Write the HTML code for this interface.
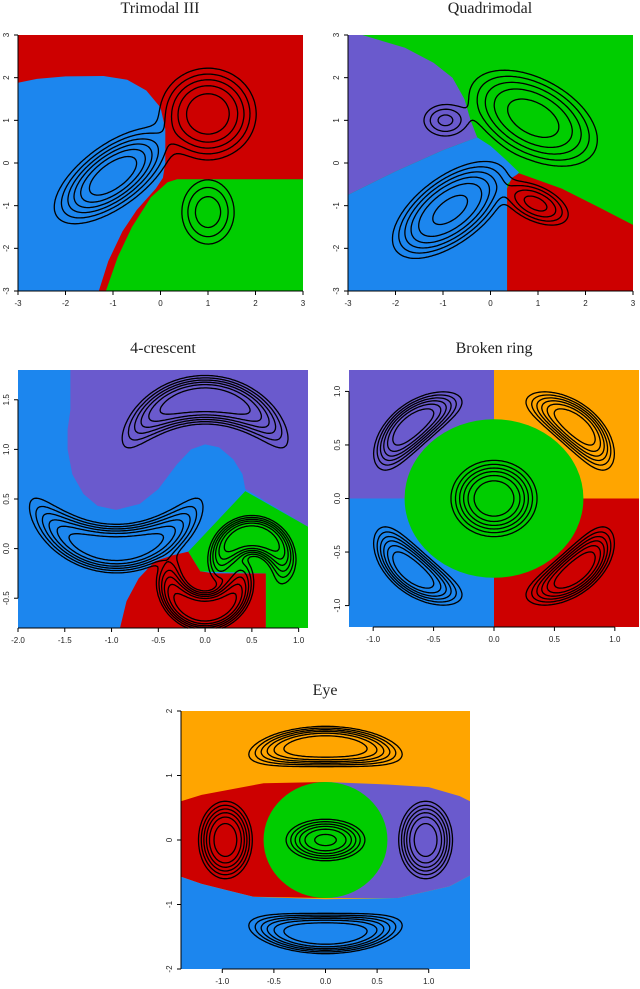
<!DOCTYPE html>
<html><head><meta charset="utf-8">
<style>
html,body{margin:0;padding:0;background:#fff;}
svg{display:block;}
.title{font-family:"Liberation Serif",serif;font-size:16px;fill:#222;}
.tick{font-family:"Liberation Sans",sans-serif;font-size:8px;fill:#222;}
</style></head>
<body>
<svg id="fig" width="640" height="989" viewBox="0 0 640 989" xmlns="http://www.w3.org/2000/svg"></svg>
<script>
// ---------- data ----------
const panelTitles = ["Trimodal III","Quadrimodal","4-crescent","Broken ring","Eye"];
const xTicks1 = [-3,-2,-1,0,1,2,3];
const yTicks1 = [-3,-2,-1,0,1,2,3];
const xTicks3 = [-2.0,-1.5,-1.0,-0.5,0.0,0.5,1.0];
const yTicks3 = [-0.5,0.0,0.5,1.0,1.5];
const xTicks4 = [-1.0,-0.5,0.0,0.5,1.0];
const yTicks4 = [-1.0,-0.5,0.0,0.5,1.0];
const xTicks5 = [-1.0,-0.5,0.0,0.5,1.0];
const yTicks5 = [-2,-1,0,1,2];
const contourLevels = [0.05,0.1,0.17,0.26,0.38,0.55];

// mixture components: g = [mx,my,sx,sy,rho,amp,p], a = [cx,cy,R,theta,sr,sth,amp,p]
const comp1 = [["g",-1,-0.3,0.55,0.5,0.65,0.8,1.1],["g",1,1.15,0.52,0.55,0,0.5,1.3],["g",1,-1.15,0.33,0.45,0,0.22,1.2]];
const comp2 = [["g",0.9,1.05,0.72,0.6,-0.45,0.45,1.4],["g",-0.95,1.0,0.27,0.22,0,0.2,1],["g",-0.85,-1.1,0.62,0.58,0.6,0.6,1.4],["g",0.95,-0.95,0.38,0.28,-0.5,0.3,1.2]];
const comp3 = [["a",0,0.5,1.0,90,0.12,0.5,0.8,1.4],["a",-0.95,1.05,1.05,-90,0.12,0.5,0.8,1.4],["a",0,-0.25,0.38,-90,0.1,1.0,0.8,1.4],["a",0.5,-0.2,0.33,90,0.1,1.0,0.8,1.4]];
const comp4 = [["g",0,0,0.17,0.17,0,0.8,1.3],["a",0,0,0.96,45,0.09,0.24,0.8,1.3],["a",0,0,0.96,135,0.09,0.24,0.8,1.3],["a",0,0,0.96,225,0.09,0.24,0.8,1.3],["a",0,0,0.96,315,0.09,0.24,0.8,1.3]];
const comp5 = [["a",0,-0.05,1.5,90,0.16,0.26,0.8,1.6],["a",0,0.05,1.5,-90,0.16,0.26,0.8,1.6],["g",-0.97,0,0.13,0.3,0,0.7,1.4],["g",0.97,0,0.13,0.3,0,0.7,1.4],["g",0,0,0.19,0.16,0,0.6,1.3]];

// region polygons (data units)
const reg1 = [["#CD0000","bg"],["#1C86EE",[[-3,-3],[-3,1.88],[-2.6,1.97],[-2,2.03],[-1.2,2.04],[-0.7,1.95],[-0.3,1.7],[0,1.3],[0.1,0.8],[0.1,0],[0.05,-0.35],[-0.1,-0.6],[-0.5,-1.1],[-0.8,-1.6],[-1.1,-2.3],[-1.3,-3]]],["#00CD00",[[3,-0.38],[0.35,-0.38],[0.15,-0.45],[-0.2,-0.8],[-0.6,-1.5],[-0.9,-2.2],[-1.15,-3],[3,-3]]]];
const reg2 = [["#00CD00","bg"],["#6A5ACD",[[-3,3],[-2.7,3],[-1.8,2.7],[-1.2,2.35],[-0.8,2.0],[-0.55,1.5],[-0.42,1.0],[-0.28,0.6],[-1.0,0.3],[-2,-0.2],[-3,-0.75]]],["#1C86EE",[[-3,-0.75],[-2,-0.2],[-1.0,0.3],[-0.28,0.6],[0,0.4],[0.3,0.1],[0.6,-0.22],[0.35,-0.5],[0.35,-3],[-3,-3]]],["#CD0000",[[0.35,-3],[0.35,-0.6],[0.45,-0.35],[0.6,-0.24],[1.5,-0.6],[2.3,-1.05],[3,-1.45],[3,-3]]]];
const reg3 = [["#1C86EE","bg"],["#6A5ACD",[[-1.44,1.8],[1.1,1.8],[1.1,0.22],[0.43,0.6],[0.4,0.75],[0.3,0.9],[0.15,1.02],[0,1.05],[-0.15,1.0],[-0.3,0.85],[-0.5,0.6],[-0.7,0.45],[-0.95,0.39],[-1.15,0.43],[-1.3,0.55],[-1.42,0.75],[-1.47,1.0],[-1.47,1.2],[-1.44,1.4]]],["#CD0000",[[-0.91,-0.8],[-0.84,-0.53],[-0.71,-0.3],[-0.54,-0.13],[-0.36,-0.07],[-0.18,-0.03],[-0.05,-0.23],[0.1,-0.25],[0.65,-0.25],[0.65,-0.8]]],["#00CD00",[[-0.18,-0.03],[0.43,0.58],[1.1,0.22],[1.1,-0.8],[0.65,-0.8],[0.65,-0.25],[-0.05,-0.23]]]];
const reg4 = [["#6A5ACD",[[-1.2,0],[-1.2,1.2],[0,1.2],[0,0]]],["#FFA500",[[0,0],[0,1.2],[1.2,1.2],[1.2,0]]],["#1C86EE",[[-1.2,-1.2],[-1.2,0],[0,0],[0,-1.2]]],["#CD0000",[[0,-1.2],[0,0],[1.2,0],[1.2,-1.2]]],["#00CD00","circle",0,0,0.74,0.74]];
const reg5 = [["#FFA500","bg"],["#CD0000",[[-1.4,0.6],[-1.2,0.7],[-0.6,0.88],[0,0.9],[0,-0.9],[-0.7,-0.88],[-1.2,-0.68],[-1.4,-0.57]]],["#6A5ACD",[[0,0.9],[0.6,0.86],[1.0,0.82],[1.3,0.68],[1.4,0.6],[1.4,-0.55],[1.2,-0.72],[0.7,-0.9],[0,-0.9]]],["#1C86EE",[[-1.4,-2],[-1.4,-0.57],[-1.2,-0.68],[-0.7,-0.88],[0,-0.92],[0.7,-0.9],[1.2,-0.72],[1.4,-0.55],[1.4,-2]]],["#00CD00","circle",0,0,0.6,0.9]];

// ---------- layout ----------
const panels = [
 {name:"trimodal-iii",box:[18,303,35,291],xr:[-3,3],yr:[-3,3],xt:xTicks1,yt:yTicks1,xdec:0,ydec:0,comp:comp1,reg:reg1,tx:160,ty:13},
 {name:"quadrimodal",box:[348,633,35,291],xr:[-3,3],yr:[-3,3],xt:xTicks1,yt:yTicks1,xdec:0,ydec:0,comp:comp2,reg:reg2,tx:490,ty:13},
 {name:"four-crescent",box:[18,308,370,628],xr:[-2,1.1],yr:[-0.8,1.8],xt:xTicks3,yt:yTicks3,xdec:1,ydec:1,comp:comp3,reg:reg3,tx:163,ty:353},
 {name:"broken-ring",box:[349,639,370,627],xr:[-1.2,1.2],yr:[-1.2,1.2],xt:xTicks4,yt:yTicks4,xdec:1,ydec:1,comp:comp4,reg:reg4,tx:494,ty:353},
 {name:"eye",box:[181,470,711,969],xr:[-1.4,1.4],yr:[-2,2],xt:xTicks5,yt:yTicks5,xdec:1,ydec:0,comp:comp5,reg:reg5,tx:325,ty:695}
];
const NS="http://www.w3.org/2000/svg";
const fig=document.getElementById("fig");
function mk(tag,attrs,parent){const e=document.createElementNS(NS,tag);for(const k in attrs)e.setAttribute(k,attrs[k]);(parent||fig).appendChild(e);return e;}

function density(comps,x,y){
  let s=0;
  for(const c of comps){
    let q,amp,p;
    if(c[0]==="g"){
      const dx=(x-c[1])/c[3],dy=(y-c[2])/c[4],r=c[5];
      q=(dx*dx-2*r*dx*dy+dy*dy)/(1-r*r);amp=c[6];p=c[7];
    }else{
      const dx=x-c[1],dy=y-c[2];const rr=Math.hypot(dx,dy);
      let th=Math.atan2(dy,dx)-c[4]*Math.PI/180;
      while(th>Math.PI)th-=2*Math.PI;while(th<-Math.PI)th+=2*Math.PI;
      const a=(rr-c[3])/c[5],b=th/c[6];q=a*a+b*b;amp=c[7];p=c[8];
    }
    s+=amp*Math.exp(-Math.pow(q/2,p));
  }
  return s;
}

panels.forEach((P,pi)=>{
  const [x0,x1,y0,y1]=P.box;
  const sx=v=>x0+(v-P.xr[0])/(P.xr[1]-P.xr[0])*(x1-x0);
  const sy=v=>y1-(v-P.yr[0])/(P.yr[1]-P.yr[0])*(y1-y0);
  const g=mk("g",{});
  
  
  const t=mk("text",{x:P.tx,y:P.ty,"text-anchor":"middle",class:"title"},g);
  t.textContent=panelTitles[pi];
  
  
  P.reg.forEach((r,ri)=>{
    let e;
    if(r[1]==="bg"){e=mk("rect",{x:x0,y:y0,width:x1-x0,height:y1-y0,fill:r[0]},g);}
    else if(r[1]==="circle"){e=mk("ellipse",{cx:sx(r[2]),cy:sy(r[3]),rx:Math.abs(sx(r[4])-sx(0)),ry:Math.abs(sy(r[5])-sy(0)),fill:r[0]},g);}
    else{e=mk("polygon",{points:r[1].map(p=>sx(p[0]).toFixed(1)+","+sy(p[1]).toFixed(1)).join(" "),fill:r[0]},g);}
    
    
  });
  const N=160,M=160;const xs=[],ys=[],V=[];
  for(let i=0;i<=N;i++)xs.push(P.xr[0]+(P.xr[1]-P.xr[0])*i/N);
  for(let j=0;j<=M;j++)ys.push(P.yr[0]+(P.yr[1]-P.yr[0])*j/M);
  for(let j=0;j<=M;j++){const row=[];for(let i=0;i<=N;i++){row.push(density(P.comp,xs[i],ys[j]));}V.push(row);}
  let d="";
  contourLevels.forEach(lv=>{
    for(let j=0;j<M;j++)for(let i=0;i<N;i++){
      const a=V[j][i],b=V[j][i+1],c=V[j+1][i+1],e=V[j+1][i];
      const pts=[];
      const cross=(v1,v2,xa,ya,xb,yb)=>{if((v1<lv)!==(v2<lv)){const t=(lv-v1)/(v2-v1);pts.push([xa+(xb-xa)*t,ya+(yb-ya)*t]);}};
      cross(a,b,xs[i],ys[j],xs[i+1],ys[j]);
      cross(b,c,xs[i+1],ys[j],xs[i+1],ys[j+1]);
      cross(c,e,xs[i+1],ys[j+1],xs[i],ys[j+1]);
      cross(e,a,xs[i],ys[j+1],xs[i],ys[j]);
      for(let k=0;k+1<pts.length;k+=2){
        d+="M"+sx(pts[k][0]).toFixed(1)+" "+sy(pts[k][1]).toFixed(1)+"L"+sx(pts[k+1][0]).toFixed(1)+" "+sy(pts[k+1][1]).toFixed(1);
      }
    }
  });
  const cp=mk("path",{d:d,fill:"none",stroke:"#000","stroke-width":1.3,"stroke-linecap":"round"},g);
  
  
  const xa=mk("g",{},g);
  
  
  mk("line",{x1:sx(P.xt[0]),x2:sx(P.xt[P.xt.length-1]),y1:y1,y2:y1,stroke:"#000","stroke-width":1},xa);
  P.xt.forEach(v=>{
    mk("line",{x1:sx(v),x2:sx(v),y1:y1,y2:y1+4,stroke:"#000","stroke-width":1},xa);
    const tt=mk("text",{x:sx(v),y:y1+15,"text-anchor":"middle",class:"tick"},xa);tt.textContent=P.xdec>0?v.toFixed(P.xdec):String(v);
    
    
  });
  const ya=mk("g",{},g);
  
  
  mk("line",{x1:x0,x2:x0,y1:sy(P.yt[0]),y2:sy(P.yt[P.yt.length-1]),stroke:"#000","stroke-width":1},ya);
  P.yt.forEach(v=>{
    mk("line",{x1:x0-4,x2:x0,y1:sy(v),y2:sy(v),stroke:"#000","stroke-width":1},ya);
    const lx=x0-9;
    const tt=mk("text",{x:lx,y:sy(v),"text-anchor":"middle",class:"tick",transform:"rotate(-90 "+lx+" "+sy(v)+")"},ya);tt.textContent=P.ydec>0?v.toFixed(P.ydec):String(v);
    
    
  });
});
</script>
</body></html>
